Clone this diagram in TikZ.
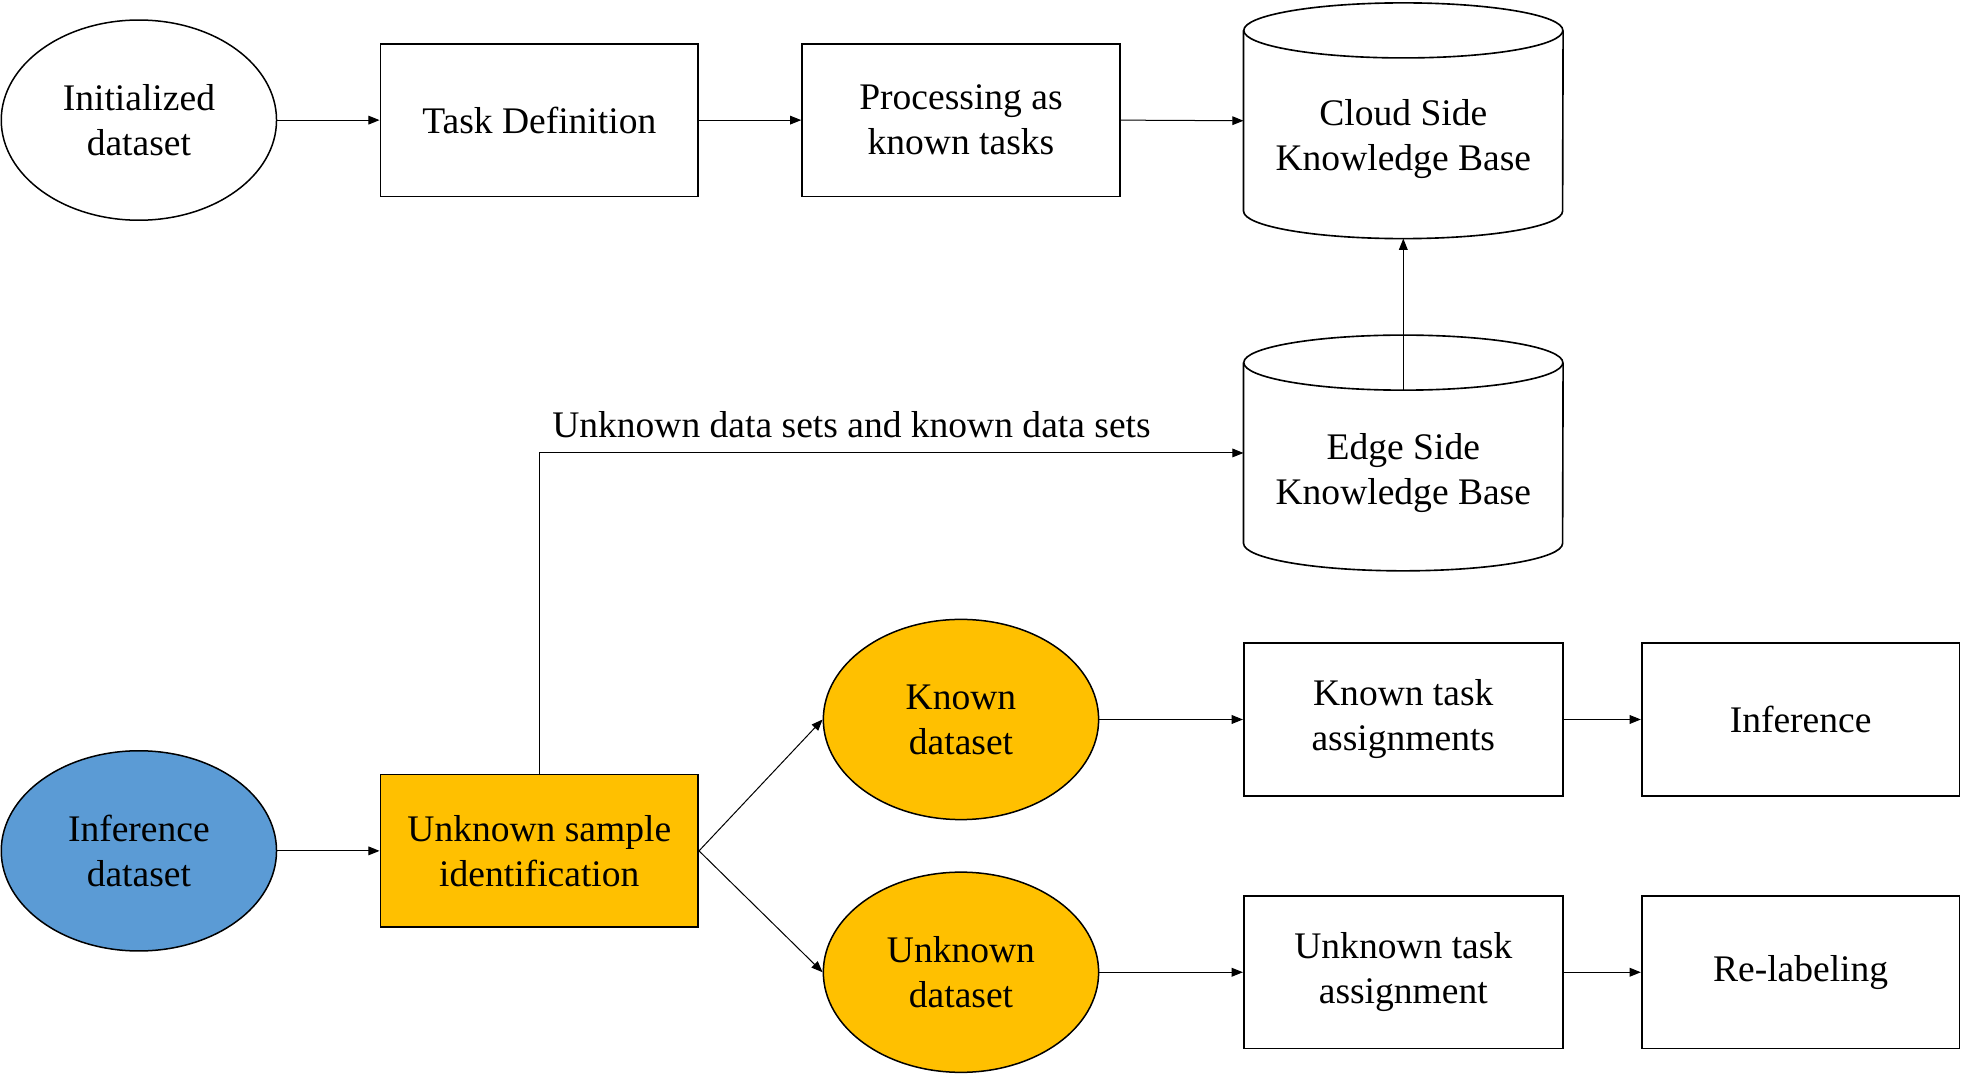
\documentclass[tikz,border=0pt]{standalone}
\usepackage{fontspec}
\setmainfont{Liberation Serif}
\usetikzlibrary{shapes.geometric,arrows.meta}
\definecolor{orangefill}{HTML}{FFC000}
\definecolor{bluefill}{HTML}{5B9BD5}
\tikzset{
  txt/.style={font=\fontsize{30}{36}\selectfont, align=center, text=black},
  boxnode/.style={txt, draw, line width=1.3pt, rectangle, minimum width=254pt, minimum height=122pt, inner sep=0pt},
  ellnode/.style={txt, draw, line width=1.2pt, ellipse, minimum width=220pt, minimum height=160pt, inner sep=0pt},
  cylframe/.style={minimum width=255pt, minimum height=188pt, inner sep=0pt, rectangle},
  cylline/.style={draw, line width=1.3pt},
  arr/.style={line width=0.8pt, -{Triangle[length=9pt,width=7pt]}}
}
\begin{document}
\begin{tikzpicture}[x=1pt,y=1pt]
\useasboundingbox (0,0) rectangle (1568,-859);
% top row
\node[ellnode] (init) at (111,-96) {Initialized\\dataset};
\node[boxnode] (taskdef) at (431,-96) {Task Definition};
\node[boxnode] (proc) at (768,-96) {Processing as\\known tasks};
% cloud cylinder
\node[cylframe] (cloud) at (1121.5,-96.5) {};
\draw[cylline] ([yshift=-22pt]cloud.north) ellipse [x radius=127.5pt, y radius=22pt];
\draw[cylline] ([yshift=-22pt]cloud.north west) -- ([yshift=22pt]cloud.south west) arc [start angle=180, end angle=360, x radius=127.5pt, y radius=22pt] -- ([yshift=-22pt]cloud.north east);
\node[txt] (cloudtxt) at (1121.5,-111) {Cloud Side\\Knowledge Base};
% edge cylinder
\node[cylframe] (edge) at (1121.5,-362) {};
\draw[cylline] ([yshift=-22pt]edge.north) ellipse [x radius=127.5pt, y radius=22pt];
\draw[cylline] ([yshift=-22pt]edge.north west) -- ([yshift=22pt]edge.south west) arc [start angle=180, end angle=360, x radius=127.5pt, y radius=22pt] -- ([yshift=-22pt]edge.north east);
\node[txt] (edgetxt) at (1121.5,-378) {Edge Side\\Knowledge Base};
\coordinate (edgetop) at ([yshift=-44pt]edge.north);
% bottom part
\node[ellnode, fill=bluefill] (infds) at (111,-680) {Inference\\dataset};
\node[boxnode, fill=orangefill] (unk) at (431,-680) {Unknown sample\\identification};
\node[ellnode, fill=orangefill] (known) at (768,-575) {Known\\dataset};
\node[ellnode, fill=orangefill] (unknown) at (768,-777) {Unknown\\dataset};
\node[boxnode, minimum width=255pt] (ktask) at (1121.5,-575) {Known task\\assignments};
\node[boxnode] (infer) at (1439,-575) {Inference};
\node[boxnode, minimum width=255pt] (utask) at (1121.5,-777) {Unknown task\\assignment};
\node[boxnode] (relabel) at (1439,-777) {Re-labeling};
\node[txt] (lbl) at (680.5,-339) {Unknown data sets and known data sets};
% connectors
\draw[arr] (init.east) -- (taskdef.west);
\draw[arr] (taskdef.east) -- (proc.west);
\draw[arr] (proc.east) -- (cloud.west);
\draw[arr] (edgetop) -- (cloud.south);
\draw[arr] (unk.north) |- (edge.west);
\draw[arr] (infds.east) -- (unk.west);
\draw[arr] (unk.east) -- (known.west);
\draw[arr] (unk.east) -- (unknown.west);
\draw[arr] (known.east) -- (ktask.west);
\draw[arr] (ktask.east) -- (infer.west);
\draw[arr] (unknown.east) -- (utask.west);
\draw[arr] (utask.east) -- (relabel.west);
\end{tikzpicture}
\end{document}
